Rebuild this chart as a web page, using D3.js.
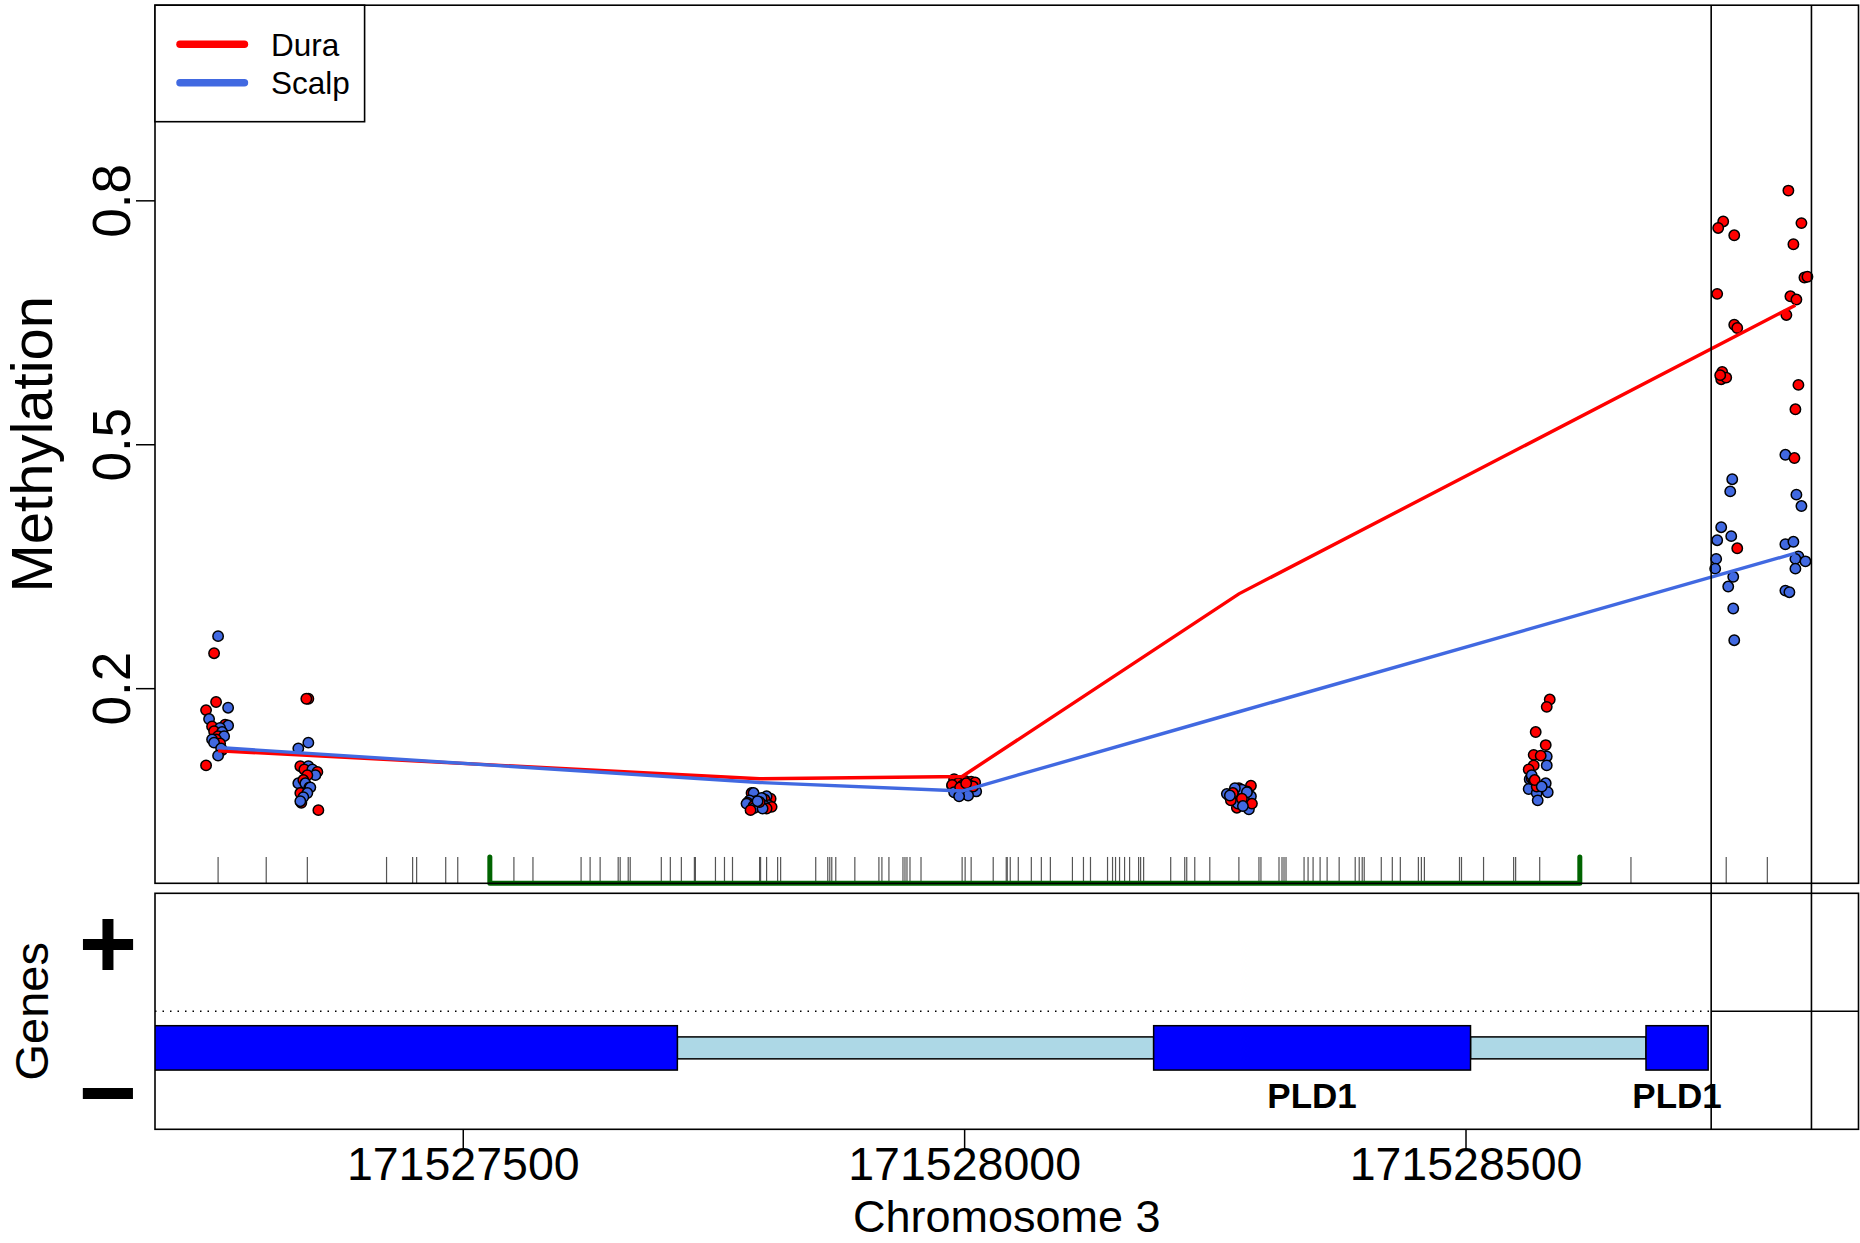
<!DOCTYPE html>
<html>
<head>
<meta charset="utf-8">
<script src="https://cdn.jsdelivr.net/npm/d3@7"></script>
<style>
  body { margin: 0; background: #fff; }
  text { font-family: "Liberation Sans", Arial, Helvetica, sans-serif; }
</style>
</head>
<body>
<svg id="plot" width="1860" height="1243"></svg>
<script>

// CpG sites with measured samples (chr3 position)
var sitePos = [171527256, 171527345, 171527796, 171527998, 171528274, 171528574, 171528760, 171528829];

// methylation per sample at each site, and the horizontal jitter (bp) of each dot
var duraVals = [
    [0.243, 0.183, 0.173, 0.155, 0.153, 0.147, 0.141, 0.137, 0.132, 0.124, 0.105],
    [0.187, 0.187, 0.104, 0.100, 0.097, 0.093, 0.087, 0.078, 0.071, 0.059, 0.050],
    [0.071, 0.064, 0.063, 0.061, 0.059, 0.057, 0.055, 0.054, 0.052, 0.050, 0.060],
    [0.088, 0.086, 0.085, 0.084, 0.083, 0.082, 0.081, 0.080, 0.079, 0.078, 0.083],
    [0.080, 0.077, 0.073, 0.069, 0.068, 0.059, 0.053, 0.058, 0.071, 0.064, 0.062],
    [0.186, 0.177, 0.146, 0.130, 0.118, 0.117, 0.105, 0.100, 0.089, 0.079, 0.087],
    [0.774, 0.766, 0.757, 0.685, 0.647, 0.643, 0.589, 0.580, 0.582, 0.372, 0.585],
    [0.812, 0.772, 0.746, 0.705, 0.706, 0.682, 0.659, 0.573, 0.543, 0.483, 0.678]
];
var duraJit = [
    [-4, -2, -12, 7, -6, -4, 0, -2, 2, 4, -12],
    [1, -1, -7, -3, 10, 0, -4, 2, -7, -6, 11],
    [-8, 11, 5, -4, -12, 2, -6, 12, 7, -9, 0],
    [-8, 3, 9, 13, -4, 6, -10, 0, 11, -2, 4],
    [12, 0, 8, 0, -10, 6, -2, 13, -6, 3, -8],
    [10, 7, -4, 6, -6, 1, -6, -11, -8, -3, -5],
    [-3, -8, 8, -9, 8, 11, -4, -5, 0, 11, -6],
    [-7, 6, -2, 9, 12, -5, -9, 3, 0, -1, 1]
];
var scalpVals = [
    [0.264, 0.176, 0.162, 0.154, 0.151, 0.146, 0.141, 0.137, 0.133, 0.126, 0.117],
    [0.133, 0.126, 0.104, 0.100, 0.093, 0.083, 0.083, 0.078, 0.071, 0.066, 0.061],
    [0.071, 0.067, 0.065, 0.062, 0.059, 0.058, 0.056, 0.055, 0.053, 0.052, 0.061],
    [0.080, 0.078, 0.077, 0.076, 0.075, 0.074, 0.073, 0.072, 0.070, 0.068, 0.067],
    [0.066, 0.067, 0.051, 0.075, 0.077, 0.070, 0.063, 0.058, 0.072, 0.055, 0.068],
    [0.116, 0.105, 0.088, 0.083, 0.076, 0.072, 0.071, 0.062, 0.087, 0.093, 0.079],
    [0.457, 0.442, 0.398, 0.382, 0.387, 0.359, 0.347, 0.337, 0.325, 0.298, 0.259],
    [0.487, 0.438, 0.424, 0.377, 0.380, 0.362, 0.359, 0.356, 0.347, 0.320, 0.318]
];
var scalpJit = [
    [0, 10, -9, 10, 2, 4, 6, -6, -4, 3, 0],
    [1, -9, 1, 5, 8, -9, -2, 3, 0, -4, -7],
    [-6, 7, 2, -10, 0, -13, 9, 5, -5, 3, -2],
    [-10, 12, 4, -5, 8, -1, 14, -8, 2, 6, -3],
    [-7, 12, 10, 3, -4, -12, 5, -1, 8, 4, -9],
    [7, 7, -10, 6, -11, 8, -3, -2, -6, -8, 2],
    [6, 4, -5, -9, 5, -10, -11, 7, 2, 7, 8],
    [-10, 1, 6, -10, -2, 3, 0, 10, 0, -10, -6]
];

// smoothed group means, drawn at a subset of sites
var lineSites = [0, 2, 3, 4, 7];
var duraLine = [0.123, 0.0885, 0.0914, 0.316, 0.671];
var scalpLine = [0.127, 0.084, 0.0735, 0.171, 0.366];

// all CpGs in the window (rug)
var cpgPos = [171527256, 171527304, 171527345, 171527424, 171527450, 171527454, 171527483, 171527495,
    171527551, 171527570, 171527618, 171527627, 171527637, 171527655, 171527657, 171527665, 171527667,
    171527698, 171527707, 171527718, 171527731, 171527732, 171527752, 171527761, 171527769, 171527796,
    171527797, 171527803, 171527814, 171527817, 171527852, 171527864, 171527866, 171527868, 171527872,
    171527891, 171527915, 171527918, 171527925, 171527939, 171527941, 171527943, 171527946, 171527957,
    171527998, 171528001, 171528007, 171528029, 171528042, 171528043, 171528046, 171528054, 171528067,
    171528077, 171528086, 171528108, 171528119, 171528126, 171528143, 171528148, 171528151, 171528155,
    171528160, 171528165, 171528174, 171528176, 171528179, 171528206, 171528220, 171528222, 171528230,
    171528245, 171528274, 171528294, 171528296, 171528314, 171528317, 171528319, 171528321, 171528339,
    171528343, 171528348, 171528355, 171528362, 171528374, 171528390, 171528394, 171528397, 171528399,
    171528416, 171528427, 171528435, 171528453, 171528456, 171528459, 171528494, 171528496, 171528518,
    171528548, 171528550, 171528574, 171528665, 171528760, 171528801];

var dmrRange = [171527527, 171528614];
var markerPos = [171528745, 171528845];

// PLD1 on the minus strand
var exonStart = [171527100, 171528189, 171528680];
var exonEnd = [171527714, 171528505, 171528742];
var exonLabel = ['', 'PLD1', 'PLD1'];

var yTicks = [0.2, 0.5, 0.8];
var xTicks = [171527500, 171528000, 171528500];
var groups = ['Dura', 'Scalp'];
var groupColors = ['#ff0000', '#4169e1'];


function drawPlot() {

    var svg = d3.select('#plot');

    var left = 155, right = 1858.5,
        top = 5.2, bottom = 883.3,
        gTop = 893.3, gBottom = 1129.3;

    var span = sitePos[sitePos.length - 1] - sitePos[0];
    var x = d3.scaleLinear()
        .domain([sitePos[0] - 0.04 * span, sitePos[sitePos.length - 1] + 0.04 * span])
        .range([left, right]);

    var y = d3.scaleLinear()
        .domain([-0.04, 1.04])
        .range([bottom, top]);

    // strand track: + above 0, - below
    var gy = d3.scaleLinear()
        .domain([-1, 1])
        .range([gBottom, gTop]);

    svg.append('rect').attr('width', 1860).attr('height', 1243).attr('fill', '#fff');

    var defs = svg.append('defs');
    defs.append('clipPath').attr('id', 'clipTop')
        .append('rect').attr('x', left).attr('y', top).attr('width', right - left).attr('height', bottom - top);
    defs.append('clipPath').attr('id', 'clipGenes')
        .append('rect').attr('x', left).attr('y', gTop).attr('width', right - left).attr('height', gBottom - gTop);

    // ---- top panel ----
    var rugLen = 0.03 * (bottom - top);

    svg.append('g').selectAll('line')
        .data(cpgPos)
        .enter().append('line')
        .attr('x1', function (d) { return x(d); })
        .attr('x2', function (d) { return x(d); })
        .attr('y1', bottom)
        .attr('y2', bottom - rugLen)
        .attr('stroke', '#555')
        .attr('stroke-width', 1.2);

    var points = [];
    sitePos.forEach(function (pos, s) {
        for (var i = 0; i < duraVals[s].length; i++) {
            points.push({pos: pos + duraJit[s][i], value: duraVals[s][i], group: 0});
            points.push({pos: pos + scalpJit[s][i], value: scalpVals[s][i], group: 1});
        }
    });

    svg.append('g')
        .attr('clip-path', 'url(#clipTop)')
        .selectAll('circle')
        .data(points)
        .enter().append('circle')
        .attr('cx', function (d) { return x(d.pos); })
        .attr('cy', function (d) { return y(d.value); })
        .attr('r', 5.2)
        .attr('fill', function (d) { return groupColors[d.group]; })
        .attr('stroke', '#000')
        .attr('stroke-width', 1.5);

    var line = d3.line()
        .x(function (d) { return x(sitePos[d.site]); })
        .y(function (d) { return y(d.value); });

    [duraLine, scalpLine].forEach(function (vals, g) {
        var pts = lineSites.map(function (s, i) { return {site: s, value: vals[i]}; });
        svg.append('path')
            .datum(pts)
            .attr('d', line)
            .attr('fill', 'none')
            .attr('stroke', groupColors[g])
            .attr('stroke-width', 3.4);
    });

    // DMR bracket
    svg.append('path')
        .attr('d', 'M' + x(dmrRange[0]) + ',' + (bottom - rugLen) +
            'L' + x(dmrRange[0]) + ',' + bottom +
            'L' + x(dmrRange[1]) + ',' + bottom +
            'L' + x(dmrRange[1]) + ',' + (bottom - rugLen))
        .attr('fill', 'none')
        .attr('stroke', '#006400')
        .attr('stroke-width', 5)
        .attr('stroke-linecap', 'round')
        .attr('stroke-linejoin', 'round');

    svg.append('rect')
        .attr('x', left).attr('y', top)
        .attr('width', right - left).attr('height', bottom - top)
        .attr('fill', 'none').attr('stroke', '#000').attr('stroke-width', 1.6);

    var yAxis = svg.append('g')
        .attr('transform', 'translate(' + left + ',0)')
        .call(d3.axisLeft(y).tickValues(yTicks).tickSize(19).tickFormat(d3.format('.1f')));
    yAxis.select('.domain').remove();
    yAxis.selectAll('line').attr('stroke', '#000').attr('stroke-width', 1.5);
    yAxis.selectAll('text')
        .attr('x', 0).attr('dy', 0)
        .attr('transform', 'translate(-25.5,0) rotate(-90)')
        .attr('text-anchor', 'middle')
        .attr('font-size', 53)
        .attr('font-family', '"Liberation Sans", Arial, sans-serif')
        .attr('fill', '#000');

    svg.append('text')
        .attr('transform', 'translate(51.7,' + ((top + bottom) / 2) + ') rotate(-90)')
        .attr('text-anchor', 'middle')
        .attr('font-size', 58)
        .text('Methylation');

    // legend
    var legend = svg.append('g');
    legend.append('rect')
        .attr('x', left).attr('y', top)
        .attr('width', 209.6).attr('height', 116.5)
        .attr('fill', '#fff').attr('stroke', '#000').attr('stroke-width', 1.6);
    groups.forEach(function (name, i) {
        var ly = 44.3 + i * 38.4;
        legend.append('line')
            .attr('x1', 180).attr('x2', 244.4)
            .attr('y1', ly).attr('y2', ly)
            .attr('stroke', groupColors[i])
            .attr('stroke-width', 7.5)
            .attr('stroke-linecap', 'round');
        legend.append('text')
            .attr('x', 270.9).attr('y', ly + 11.3)
            .attr('font-size', 31.5)
            .text(name);
    });

    // ---- gene track ----
    var genes = svg.append('g').attr('clip-path', 'url(#clipGenes)');

    genes.append('line')
        .attr('x1', left).attr('x2', x(markerPos[0]))
        .attr('y1', gy(0)).attr('y2', gy(0))
        .attr('stroke', '#000').attr('stroke-width', 1.5)
        .attr('stroke-dasharray', '1.5,6');
    genes.append('line')
        .attr('x1', x(markerPos[0])).attr('x2', right)
        .attr('y1', gy(0)).attr('y2', gy(0))
        .attr('stroke', '#000').attr('stroke-width', 1.5);

    for (var i = 0; i < exonStart.length - 1; i++) {
        genes.append('rect')
            .attr('x', x(exonEnd[i]))
            .attr('y', gy(-0.31 + 0.093))
            .attr('width', x(exonStart[i + 1]) - x(exonEnd[i]))
            .attr('height', gy(-0.31 - 0.093) - gy(-0.31 + 0.093))
            .attr('fill', '#add8e6').attr('stroke', '#000').attr('stroke-width', 1.5);
    }

    genes.selectAll('rect.exon')
        .data(exonStart)
        .enter().append('rect')
        .classed('exon', true)
        .attr('x', function (d) { return x(d); })
        .attr('y', gy(-0.31 + 0.188))
        .attr('width', function (d, i) { return x(exonEnd[i]) - x(d); })
        .attr('height', gy(-0.31 - 0.188) - gy(-0.31 + 0.188))
        .attr('fill', '#0000ff').attr('stroke', '#000').attr('stroke-width', 1.5);

    svg.append('g').selectAll('text')
        .data(exonStart)
        .enter().append('text')
        .attr('x', function (d, i) { return x((d + exonEnd[i]) / 2); })
        .attr('y', gy(-0.822))
        .attr('text-anchor', 'middle')
        .attr('font-size', 35)
        .attr('font-weight', 'bold')
        .text(function (d, i) { return exonLabel[i]; });

    svg.append('rect')
        .attr('x', left).attr('y', gTop)
        .attr('width', right - left).attr('height', gBottom - gTop)
        .attr('fill', 'none').attr('stroke', '#000').attr('stroke-width', 1.6);

    // strand symbols
    svg.append('text')
        .attr('x', 108).attr('y', gy(0.553) + 32)
        .attr('text-anchor', 'middle')
        .attr('font-size', 100).attr('font-weight', 'bold')
        .text('+');
    svg.append('text')
        .attr('x', 108).attr('y', gy(-0.71) + 32)
        .attr('text-anchor', 'middle')
        .attr('font-size', 100).attr('font-weight', 'bold')
        .text('\u2212');

    svg.append('text')
        .attr('transform', 'translate(48,' + ((gTop + gBottom) / 2) + ') rotate(-90)')
        .attr('text-anchor', 'middle')
        .attr('font-size', 47)
        .text('Genes');

    // marker lines across both panels
    svg.append('g').selectAll('line')
        .data(markerPos)
        .enter().append('line')
        .attr('x1', function (d) { return x(d); })
        .attr('x2', function (d) { return x(d); })
        .attr('y1', top).attr('y2', gBottom)
        .attr('stroke', '#000').attr('stroke-width', 1.6);

    var xAxis = svg.append('g')
        .attr('transform', 'translate(0,' + gBottom + ')')
        .call(d3.axisBottom(x).tickValues(xTicks).tickSize(19).tickFormat(d3.format('d')));
    xAxis.select('.domain').remove();
    xAxis.selectAll('line').attr('stroke', '#000').attr('stroke-width', 1.5);
    xAxis.selectAll('text')
        .attr('y', 50.7).attr('dy', 0)
        .attr('font-size', 46.5)
        .attr('font-family', '"Liberation Sans", Arial, sans-serif')
        .attr('fill', '#000');

    svg.append('text')
        .attr('x', (left + right) / 2).attr('y', 1232)
        .attr('text-anchor', 'middle')
        .attr('font-size', 45)
        .text('Chromosome 3');
}

drawPlot();
</script>
</body>
</html>
